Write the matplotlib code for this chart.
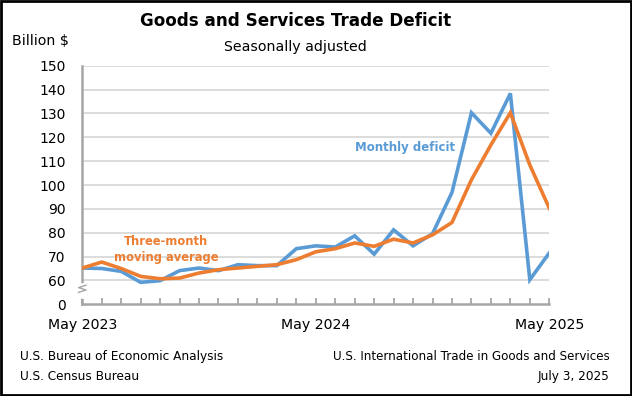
import numpy as np
import matplotlib
matplotlib.use("Agg")
import matplotlib.pyplot as plt

plt.rcParams['font.family'] = ['DejaVu Sans']

# monthly values, May 2023 .. May 2025 (billion $)
months = list(range(25))
monthly = [65.2, 65.0, 63.8, 59.2, 59.9, 64.1, 65.2, 64.1, 66.6, 66.2, 66.2, 73.3, 74.5,
           74.0, 78.7, 71.0, 81.2, 74.5, 79.6, 96.9, 130.3, 121.7, 138.4, 60.3, 71.5]
avg3 = [65.2, 67.7, 65.0, 61.7, 60.7, 61.0, 63.1, 64.5, 65.2, 65.9, 66.6, 68.7, 72.0,
        73.3, 75.7, 74.3, 77.3, 75.7, 79.1, 84.3, 102.2, 116.8, 130.3, 108.4, 90.3]
ytick_vals = [50, 60, 70, 80, 90, 100, 110, 120, 130, 140, 150]
ytick_labels = ['0', '60', '70', '80', '90', '100', '110', '120', '130', '140', '150']
xtick_pos = [0, 12, 24]
xtick_labels = ['May 2023', 'May 2024', 'May 2025']

blue = '#5B9BD5'
orange = '#ED7D31'
gray = '#A6A6A6'

fig = plt.figure(figsize=(6.32, 3.96), dpi=100)
ax = fig.add_axes([0.1302, 0.2316, 0.7389, 0.6024])

for v in ytick_vals[1:]:
    ax.axhline(v, color='#D9D9D9', lw=1.3, zorder=0)

ax.plot(months, monthly, color=blue, lw=2.6, solid_joinstyle='miter', zorder=3)
ax.plot(months, avg3, color=orange, lw=2.6, solid_joinstyle='miter', zorder=4)

ax.set_xlim(0, 24)
ax.set_ylim(50, 150)
ax.set_yticks(ytick_vals)
ax.set_yticklabels(ytick_labels, fontsize=10)
ax.set_xticks(months, minor=True)
ax.set_xticks(xtick_pos)
ax.set_xticklabels(xtick_labels, fontsize=10.2)
ax.tick_params(axis='y', length=0, pad=12)
ax.tick_params(axis='x', which='both', direction='in', length=4, width=1.3, color=gray, pad=10)

for s in ['top', 'right']:
    ax.spines[s].set_visible(False)
for s in ['left', 'bottom']:
    ax.spines[s].set_color(gray)
    ax.spines[s].set_linewidth(1.8)

# axis break on the y axis
ax.plot([0, 0], [0.035, 0.075], transform=ax.transAxes, color='white', lw=4, clip_on=False, zorder=5)
ax.plot([-0.008, 0.008, -0.008, 0.008], [0.05, 0.06, 0.07, 0.08], transform=ax.transAxes,
        color=gray, lw=1.0, clip_on=False, zorder=6)

ax.text(16.6, 115.6, 'Monthly deficit', color=blue, fontsize=8.5, fontweight='bold', ha='center', va='center')
ax.text(4.3, 73.1, 'Three-month\nmoving average', color=orange, fontsize=8.3, fontweight='bold',
        ha='center', va='center', linespacing=1.3)

fig.text(0.4676, 0.9475, 'Goods and Services Trade Deficit', fontsize=12.1, fontweight='bold', ha='center', va='center')
fig.text(0.4676, 0.882, 'Seasonally adjusted', fontsize=10.2, ha='center', va='center')
fig.text(0.019, 0.896, 'Billion $', fontsize=10.2, ha='left', va='center')

fig.text(0.031, 0.099, 'U.S. Bureau of Economic Analysis', fontsize=8.75, ha='left', va='center')
fig.text(0.031, 0.049, 'U.S. Census Bureau', fontsize=8.75, ha='left', va='center')
fig.text(0.965, 0.099, 'U.S. International Trade in Goods and Services', fontsize=8.6, ha='right', va='center')
fig.text(0.965, 0.049, 'July 3, 2025', fontsize=8.75, ha='right', va='center')

# frame around whole chart
fig.patches.append(plt.Rectangle((0.002, 0.003), 0.996, 0.994, transform=fig.transFigure,
                                 fill=False, edgecolor='black', lw=2))

fig.savefig('out.png', dpi=100)
